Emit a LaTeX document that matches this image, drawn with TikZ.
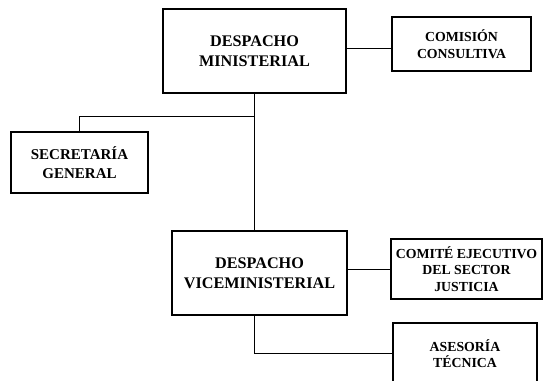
\documentclass[tikz,border=0pt]{standalone}
\usepackage{fontspec}
\setmainfont{Liberation Serif}
\usepackage{tikz}

\begin{document}
\begin{tikzpicture}[x=1pt, y=-1pt,
       ob/.style={draw, line width=1.1pt, align=center, inner sep=0pt},
       big/.style={ob, font=\bfseries\fontsize{16.2}{20}\selectfont},
       mid/.style={ob, font=\bfseries\fontsize{15}{19}\selectfont},
       small/.style={ob, font=\bfseries\fontsize{13.8}{16.5}\selectfont},
       ln/.style={line width=0.9pt}]
     \useasboundingbox (0,0) rectangle (543,380);
     \clip (0,0) rectangle (543,380);
     \node[big, minimum width=183, minimum height=84] (mini) at (254.5,51) {DESPACHO\\MINISTERIAL};
     \node[small, minimum width=139, minimum height=54] (comi) at (461.5,44) {COMISIÓN\\CONSULTIVA};
     \node[mid, minimum width=137, minimum height=61] (secr) at (79.5,162.5) {SECRETARÍA\\GENERAL};
     \node[big, minimum width=175, minimum height=84] (vice) at (259.5,273) {DESPACHO\\VICEMINISTERIAL};
     \node[small, minimum width=151, minimum height=60] (comite) at (466.5,269) {COMITÉ EJECUTIVO\\DEL SECTOR\\JUSTICIA};
     \node[small, minimum width=144, minimum height=61] (ases) at (465,353.5) {ASESORÍA\\TÉCNICA};
     \coordinate (branch) at (mini.south |- 0,116);
     \draw [ln] (mini.south) -- (mini.south |- vice.north);
     \draw [ln] ([yshift=3]mini.east) -- ([yshift=3]mini.east -| comi.west);
     \draw [ln] (branch) -| (secr.north);
     \draw [ln] (comite.west) -- (comite.west -| vice.east);
     \draw [ln] (ases.west) -| (mini.south |- vice.south);
   \end{tikzpicture}
\end{document}
